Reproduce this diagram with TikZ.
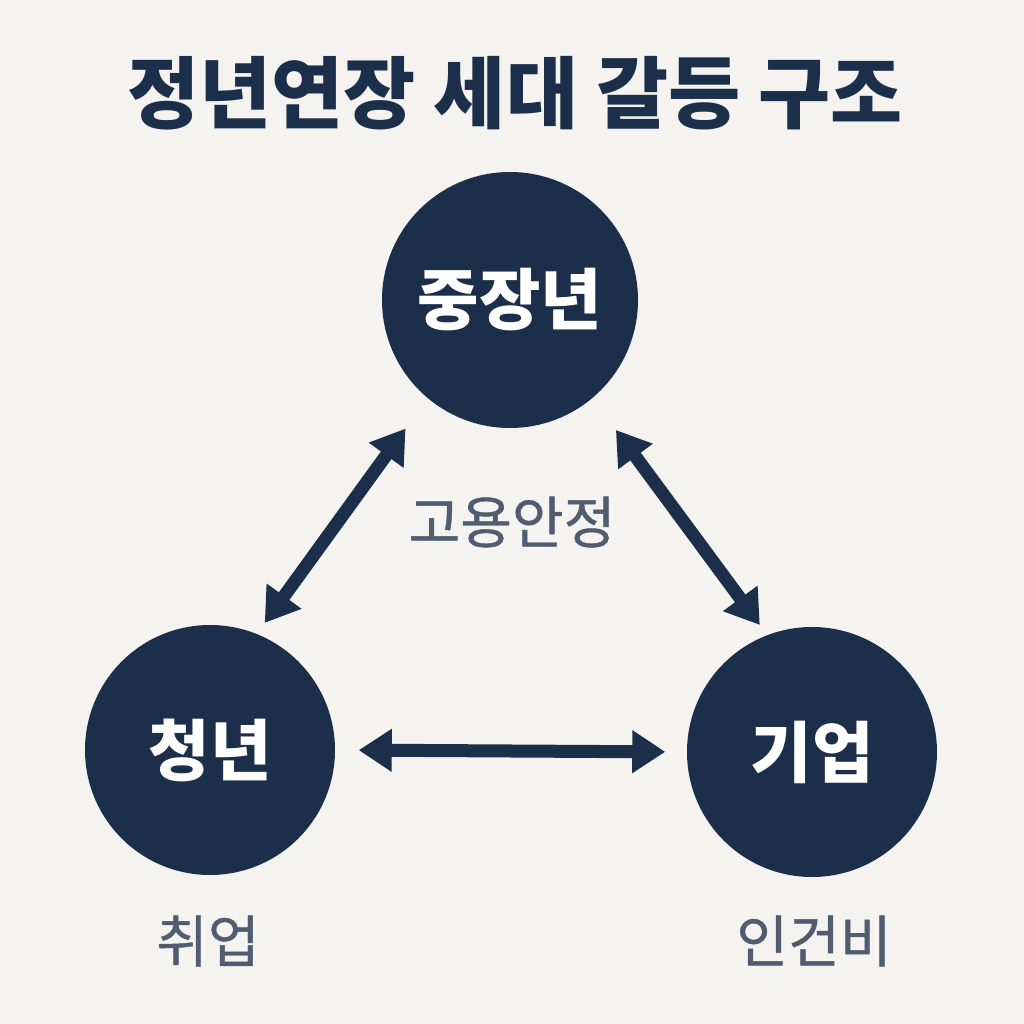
\documentclass[tikz,border=0pt]{standalone}
\usepackage{fontspec}
\usetikzlibrary{arrows.meta}
\newfontfamily\kr{Noto Sans CJK KR}
\newfontfamily\krnote[FakeBold=0.8]{Noto Sans CJK KR}
\definecolor{navy}{RGB}{28,47,74}
\definecolor{paper}{RGB}{244,243,240}
\definecolor{slate}{RGB}{80,92,112}

\begin{document}
\begin{tikzpicture}[line cap=round,line join=round,font=\kr,
    party/.style={circle,fill=navy,text=white,inner sep=0pt,font=\kr\bfseries\fontsize{19}{21}\selectfont},
    note/.style={text=slate,font=\krnote\fontsize{16}{18}\selectfont},
    link/.style={navy,line width=3.7pt,line cap=butt,{Triangle[length=9.4pt,width=11.6pt]}-{Triangle[length=9.4pt,width=11.6pt]}}]
  \fill[paper] (0,0) rectangle (10.24,10.24);

  \node[navy,font=\kr\bfseries\fontsize{22.3}{25}\selectfont] (title) at (5.15,9.31) {정년연장 세대 갈등 구조};

  \node[party,minimum size=2.56cm] (mid) at (5.10,7.24) {중장년};
  \node[party,minimum size=2.50cm] (young) at (2.10,2.74) {청년};
  \node[party,minimum size=2.50cm] (firm) at (8.12,2.72) {기업};

  \draw[link,shorten <=.37cm,shorten >=.13cm] (mid.230) -- (young.68);
  \draw[link,shorten <=.39cm,shorten >=.12cm] (mid.310) -- (firm.111);
  \draw[link,shorten <=.23cm,shorten >=.21cm] (young.east) -- (firm.west);

  \node[note] (security) at (5.12,5.02) {고용안정};
  \node[note] (job) at (2.08,0.83) {취업};
  \node[note] (wage) at (8.14,0.83) {인건비};
\end{tikzpicture}
\end{document}
